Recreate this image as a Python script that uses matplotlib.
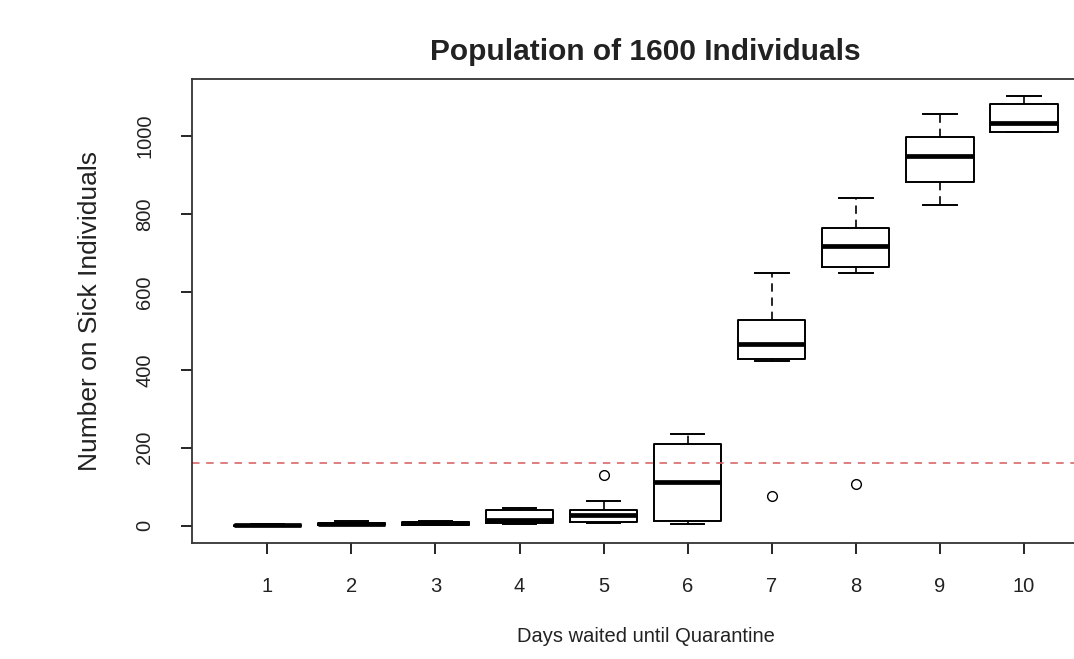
import matplotlib
matplotlib.use("Agg")
import matplotlib.pyplot as plt

plt.rcParams['font.family'] = ['Liberation Sans', 'DejaVu Sans']

# Summary of sick counts per quarantine delay (days 1..10)
days = [1, 2, 3, 4, 5, 6, 7, 8, 9, 10]
whisker_low = [0, 1, 1, 5, 7, 4, 423, 648, 822, 1010]
quart_1 = [0, 2, 2, 6, 9, 11, 427, 663, 883, 1012]
medians = [1, 4, 6, 15, 26, 113, 465, 717, 948, 1033]
quart_3 = [2, 7, 10, 39, 41, 210, 528, 763, 997, 1082]
whisker_high = [3, 12, 11, 44, 64, 235, 648, 842, 1058, 1102]
outliers = [[], [], [], [], [129], [], [75], [106], [], []]
threshold = 160  # 10% of the population

title = "Population of 1600 Individuals"
xlabel = "Days waited until Quarantine"
ylabel = "Number on Sick Individuals"
yticks = [0, 200, 400, 600, 800, 1000]

text_color = '#222222'

stats = []
for lo, a, m, b, hi, fl in zip(whisker_low, quart_1, medians, quart_3,
                               whisker_high, outliers):
    stats.append(dict(whislo=lo, q1=a, med=m, q3=b, whishi=hi, fliers=fl))

fig = plt.figure(figsize=(10.74, 6.59), dpi=100)
ax = fig.add_axes([191.7 / 1074, 116.3 / 659, 907.9 / 1074, 463.4 / 659])

ax.bxp(stats, positions=days, widths=0.8, capwidths=0.4, showfliers=True,
       boxprops=dict(color='black', linewidth=1.4),
       medianprops=dict(color='black', linewidth=3.4, solid_capstyle='butt'),
       whiskerprops=dict(color='black', linewidth=1.2, linestyle=(0, (5, 3.5))),
       capprops=dict(color='black', linewidth=1.4),
       flierprops=dict(marker='o', markerfacecolor='none',
                       markeredgecolor='black', markersize=7,
                       markeredgewidth=1.0))

ax.axhline(threshold, color='#d9686b', linewidth=1.2, linestyle=(0, (4.5, 4)))

# R-style 4% padding on both axes
data_min = min(min(whisker_low), min(min(f) for f in outliers if f))
data_max = max(max(whisker_high), max(max(f) for f in outliers if f))
pad = 0.04 * (data_max - data_min)
ax.set_ylim(data_min - pad, data_max + pad)
ax.set_xlim(0.5 - 0.4, 10.5 + 0.4)

ax.set_xticks(days)
ax.set_xticklabels([str(d) for d in days])
ax.set_yticks(yticks)
ax.set_yticklabels([str(t) for t in yticks], rotation=90, va='center')

ax.tick_params(axis='both', direction='out', length=8, width=1.2,
               colors='black', labelcolor=text_color, labelsize=14.5)
ax.tick_params(axis='x', pad=17)
ax.tick_params(axis='y', pad=19)
for s in ax.spines.values():
    s.set_linewidth(1.3)
    s.set_color('#333333')

ax.set_title(title, fontsize=21.5, fontweight='bold', pad=14, color=text_color)
ax.set_xlabel(xlabel, fontsize=14.5, labelpad=22, color=text_color)
ax.set_ylabel(ylabel, fontsize=19, labelpad=24, color=text_color)

fig.savefig("out.png", dpi=100)
